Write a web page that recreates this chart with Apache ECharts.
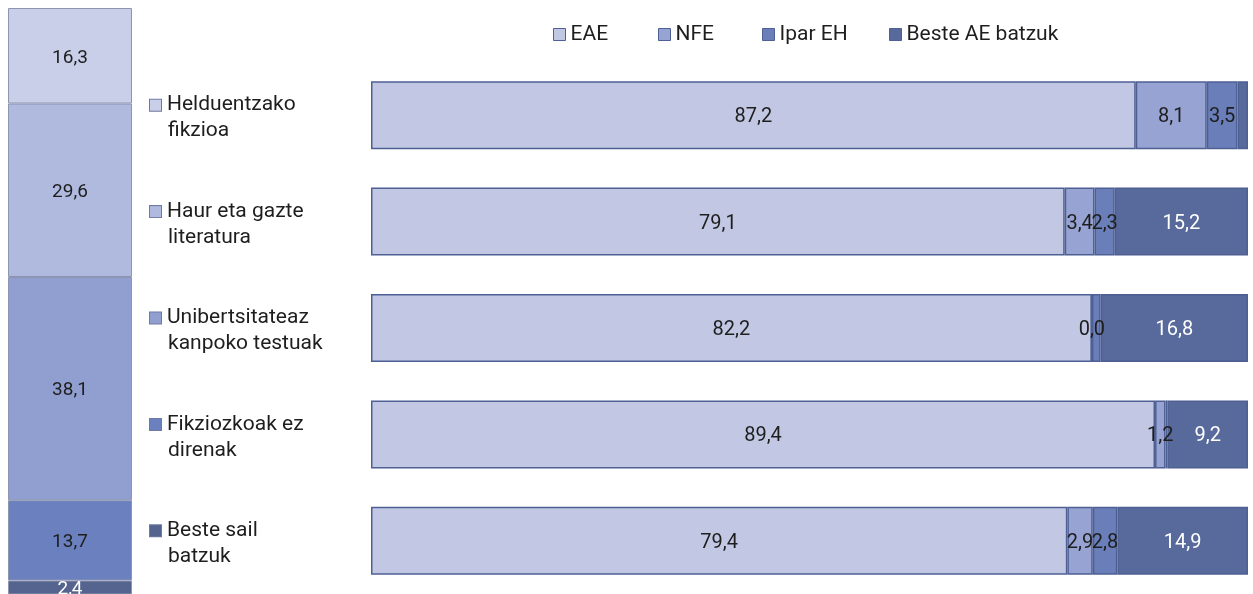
<!DOCTYPE html>
<html>
<head>
<meta charset="utf-8">
<script src="https://cdn.jsdelivr.net/npm/echarts@6/dist/echarts.min.js"></script>
<style>
  html, body { margin: 0; padding: 0; background: #fff; }
  #myChart { width: 1253px; height: 594px; }
</style>
</head>
<body>
<div id="myChart"></div>
<script>
// sail bakoitzaren pisua (ezkerreko zutabea)
const sailak = ['Helduentzako fikzioa', 'Haur eta gazte literatura', 'Unibertsitateaz kanpoko testuak', 'Fikziozkoak ez direnak', 'Beste sail batzuk']
const sailPisua = [16.3, 29.6, 38.1, 13.7, 2.4]
const sailKolorea = ['#c9cee9', '#b0b9de', '#909fd0', '#6b80be', '#55648e']

// barra horizontalak
const categories = ['Helduentzako\nfikzioa', 'Haur eta gazte\nliteratura', 'Unibertsitateaz\nkanpoko testuak', 'Fikziozkoak ez\ndirenak', 'Beste sail\nbatzuk']
const seriesNames = ['EAE', 'NFE', 'Ipar EH', 'Beste AE batzuk']
const eae = [87.2, 79.1, 82.2, 89.4, 79.4]
const nfe = [8.1, 3.4, 0.0, 1.2, 2.9]
const ipar = [3.5, 2.3, 1.0, 0.2, 2.8]
const beste = [1.2, 15.2, 16.8, 9.2, 14.9]
// etiketarik gabeko balioak [serie, errenkada]
const hiddenLabels = [[3, 0], [2, 2], [2, 3]]
const colors = ['#c2c8e4', '#97a3d2', '#6a7fba', '#58699c']

const font = 'Roboto'
const fmt = p => p.value.toFixed(1).replace('.', ',')

const myChart = echarts.init(document.getElementById('myChart'))

const rich = { s: { width: 18 }, g: { width: 6 } }
sailKolorea.forEach((c, i) => {
  rich['m' + i] = { width: 11, height: 11, backgroundColor: c, borderColor: '#6e7aa3', borderWidth: 1 }
})
rich.t = { fontFamily: font, fontSize: 21, color: '#1e1e1e', lineHeight: 26 }

const leftSeries = sailPisua.map((v, i) => ({
  name: sailak[i],
  type: 'bar',
  stack: 'sail',
  xAxisIndex: 0,
  yAxisIndex: 0,
  barWidth: 124,
  data: [v],
  itemStyle: { color: sailKolorea[i], borderColor: '#8d95b3', borderWidth: 1 },
  label: {
    show: true,
    position: 'inside',
    offset: [0, 2],
    formatter: fmt,
    fontFamily: font,
    fontSize: 19,
    color: i === 4 ? '#fff' : '#1e1e1e'
  }
}))

const barData = [eae, nfe, ipar, beste]
const rightSeries = barData.map((arr, s) => ({
  name: seriesNames[s],
  type: 'bar',
  stack: 'total',
  xAxisIndex: 1,
  yAxisIndex: 1,
  barWidth: 68,
  itemStyle: { color: colors[s], borderColor: '#4e5f93', borderWidth: 1.5 },
  label: {
    show: true,
    position: 'inside',
    offset: [0, 2],
    formatter: fmt,
    fontFamily: font,
    fontSize: 20,
    color: s === 3 ? '#fff' : '#1e1e1e'
  },
  data: arr.map((v, r) => {
    const hide = hiddenLabels.some(h => h[0] === s && h[1] === r)
    return hide ? { value: v, label: { show: false } } : v
  })
}))

const legendLeft = [548, 653, 757, 884]
const option = {
  animation: false,
  legend: seriesNames.map((n, i) => ({
    data: [n],
    left: legendLeft[i],
    top: 19,
    icon: 'rect',
    itemWidth: 12,
    itemHeight: 12,
    itemStyle: { borderColor: '#4e5f93', borderWidth: 1 },
    textStyle: { fontFamily: font, fontSize: 21, color: '#1e1e1e' }
  })),
  grid: [
    { left: 8, top: 8, width: 124, height: 587 },
    { left: 371, top: 62, width: 877, height: 535 }
  ],
  xAxis: [
    { gridIndex: 0, type: 'category', data: [''], show: false },
    { gridIndex: 1, type: 'value', min: 0, max: 100, show: false }
  ],
  yAxis: [
    { gridIndex: 0, type: 'value', min: 0, max: 100, inverse: true, show: false },
    {
      gridIndex: 1,
      type: 'category',
      inverse: true,
      data: categories,
      axisLine: { show: false },
      axisTick: { show: false },
      axisLabel: {
        align: 'left',
        margin: 221,
        padding: [6, 0, 0, 0],
        rich: rich,
        formatter: (val, idx) => {
          const lines = val.split('\n')
          return '{m' + idx + '|}{g|}{t|' + lines[0] + '}\n{s|}{t|' + lines[1] + '}'
        }
      }
    }
  ],
  series: leftSeries.concat(rightSeries)
}

myChart.setOption(option)
</script>
</body>
</html>
